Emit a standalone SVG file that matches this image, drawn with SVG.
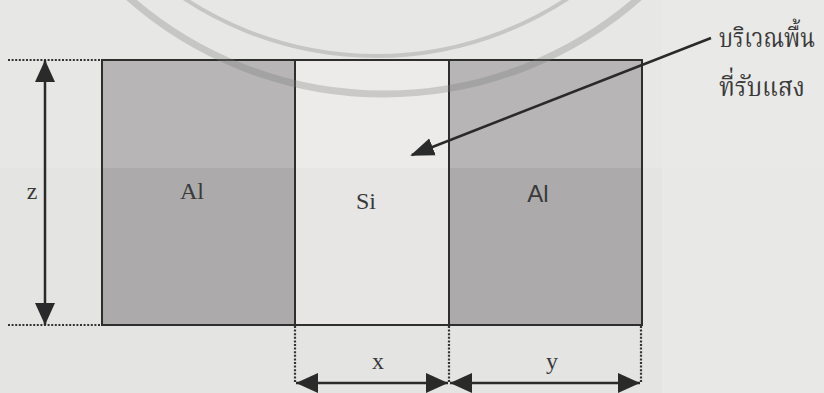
<svg xmlns="http://www.w3.org/2000/svg" width="824" height="393" viewBox="0 0 824 393">
  <style>
    .frame { stroke: #2e2e2e; stroke-width: 2; }
    .al { fill: #b7b5b6; }
    .al-low { fill: #acaaab; }
    .si { fill: #ecebea; }
    .si-low { fill: #e7e6e4; }
    .dot { stroke: #333; stroke-width: 2.2; stroke-dasharray: 2 1.6; fill: none; }
    .dim { stroke: #2a2a2a; stroke-width: 2.5; fill: none; }
    .serif { font-family: "Liberation Serif", "Times New Roman", serif; font-size: 24px; fill: #3a3a3a; }
    .sans { font-family: "Liberation Sans", Arial, sans-serif; font-size: 24px; fill: #3a3a3a; }
    .thai { font-family: "Noto Serif Thai", "Noto Sans Thai", "DejaVu Sans", "Noto Sans", sans-serif; font-size: 27px; fill: #3a3a3a; }
    .wm { fill: none; stroke: #7c7c7c; stroke-opacity: 0.3; }
  </style>
  <defs>
    <marker id="head" markerUnits="userSpaceOnUse" markerWidth="22" markerHeight="20" viewBox="0 0 22 20" refX="22" refY="10" orient="auto-start-reverse">
      <path d="M0,0 L22,10 L0,20 Z" fill="#2a2a2a"/>
    </marker>
    <marker id="head2" markerUnits="userSpaceOnUse" markerWidth="24" markerHeight="20" viewBox="0 0 24 20" refX="22" refY="10" orient="auto">
      <path d="M0,1 L24,10 L0,19 Z" fill="#2a2a2a"/>
    </marker>
  </defs>

  <!-- paper background -->
  <rect x="0" y="0" width="824" height="393" fill="#e7e7e5"/>
  <rect x="0" y="168" width="824" height="225" fill="#e4e4e2"/>
  <rect x="662" y="0" width="162" height="393" fill="#ebebe9" opacity="0.5"/>

  <g id="al-left">
    <rect class="al" x="102" y="60" width="193" height="108"/>
    <rect class="al-low" x="102" y="168" width="193" height="157"/>
    <rect class="frame" x="102" y="60" width="193" height="265" fill="none"/>
  </g>

  <g id="si">
    <rect class="si" x="295" y="60" width="154" height="108"/>
    <rect class="si-low" x="295" y="168" width="154" height="157"/>
    <rect class="frame" x="295" y="60" width="154" height="265" fill="none"/>
  </g>

  <g id="al-right">
    <rect class="al" x="449" y="60" width="193" height="108"/>
    <rect class="al-low" x="449" y="168" width="193" height="157"/>
    <rect class="frame" x="449" y="60" width="193" height="265" fill="none"/>
  </g>

  <!-- faint watermark arcs (scan artefact) -->
  <g id="watermark">
    <circle class="wm" cx="384" cy="-292" r="386" stroke-width="7"/>
    <circle class="wm" cx="376" cy="-292" r="348" stroke-width="4"/>
  </g>

  <g id="region-labels">
    <text class="serif" x="192" y="199" text-anchor="middle">Al</text>
    <text class="serif" x="366" y="209" text-anchor="middle">Si</text>
    <text class="sans" x="538" y="202" text-anchor="middle">Al</text>
  </g>

  <g id="label">
    <text class="thai" x="719" y="47" textLength="96" lengthAdjust="spacingAndGlyphs">บริเวณพื้น</text>
    <text class="thai" x="719" y="96" textLength="86" lengthAdjust="spacingAndGlyphs">ที่รับแสง</text>
  </g>

  <g id="connectors">
    <!-- extension lines -->
    <line class="dot" x1="8" y1="60" x2="100" y2="60"/>
    <line class="dot" x1="8" y1="325" x2="100" y2="325"/>
    <line class="dot" x1="295" y1="326" x2="295" y2="383"/>
    <line class="dot" x1="449" y1="326" x2="449" y2="383"/>
    <line class="dot" x1="641" y1="326" x2="641" y2="383"/>
    <!-- dimension arrows -->
    <line class="dim" x1="45" y1="60" x2="45" y2="325" marker-start="url(#head)" marker-end="url(#head)"/>
    <line class="dim" x1="296" y1="383" x2="448" y2="383" marker-start="url(#head)" marker-end="url(#head)"/>
    <line class="dim" x1="450" y1="383" x2="640" y2="383" marker-start="url(#head)" marker-end="url(#head)"/>
    <!-- leader -->
    <line class="dim" x1="711" y1="38" x2="412" y2="155" marker-end="url(#head2)"/>
  </g>

  <g id="dim-labels">
    <text class="serif" x="32" y="199" text-anchor="middle">z</text>
    <text class="serif" x="378" y="369" text-anchor="middle">x</text>
    <text class="serif" x="552" y="369" text-anchor="middle">y</text>
  </g>
</svg>
